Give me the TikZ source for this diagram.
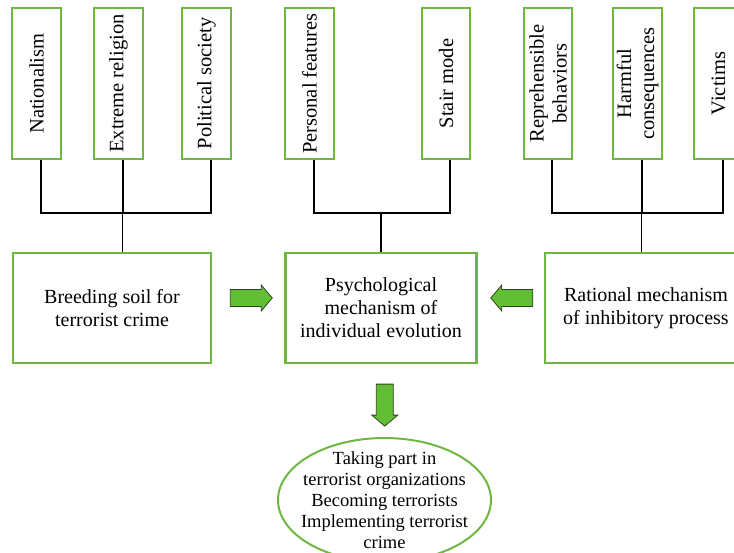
\documentclass[tikz,border=0pt]{standalone}
\usepackage{fontspec}
\setmainfont{Liberation Serif}
\usetikzlibrary{shapes.geometric, calc}
\definecolor{boxgreen}{RGB}{112,182,66}
\definecolor{arrowgreen}{RGB}{98,190,52}
\definecolor{arrowedge}{RGB}{45,70,30}
\tikzset{
    every node/.style = {font=\fontsize{20}{23}\selectfont, align=center},
    factor/.style = {draw=boxgreen, line width=2.4pt, rotate=90, minimum width=151pt, minimum height=48.5pt, inner sep=0pt, font=\fontsize{20.5}{23}\selectfont},
    stage/.style = {draw=boxgreen, line width=2.4pt, minimum height=110pt, inner sep=0pt},
    result/.style = {draw=boxgreen, line width=2pt, ellipse, minimum width=213pt, minimum height=124pt, inner sep=-10pt, font=\fontsize{18.5}{21}\selectfont},
    tree/.style = {line width=2pt},
    link/.style = {line width=1.2pt},
    blockarrow/.style = {fill=arrowgreen, draw=arrowedge, line width=0.8pt, line join=miter},
    pics/blockarr/.style = {code={
        \draw[blockarrow] (-21,-8.5) -- (10,-8.5) -- (10,-13) -- (21,0) -- (10,13) -- (10,8.5) -- (-21,8.5) -- cycle;
    }}
}

\begin{document}
\begin{tikzpicture}[x=1pt, y=-1pt]
    \useasboundingbox (0,0) rectangle (734,552);
    \clip (0,0) rectangle (734,552);

    \node[factor] (nat) at (36.5,83.5) {Nationalism};
    \node[factor] (rel) at (118.5,83.5) {Extreme religion};
    \node[factor] (pol) at (206.5,83.5) {Political society};
    \node[factor] (pers) at (309.5,83.5) {Personal features};
    \node[factor] (stair) at (446,83.5) {Stair mode};
    \node[factor] (repr) at (548,83.5) {Reprehensible\\behaviors};
    \node[factor] (harm) at (637.5,83.5) {Harmful\\consequences};
    \node[factor] (vict) at (718.5,83.5) {Victims};

    \node[stage, minimum width=198pt] (breed) at (112,308) {Breeding soil for\\terrorist crime};
    \node[stage, minimum width=191pt] (psych) at (381,308) {Psychological\\mechanism of\\individual evolution};
    \node[stage, minimum width=202pt] (ratio) at (646,308) {Rational mechanism\\of inhibitory process};

    \node[result] (outcome) at (384.5,500) {Taking part in\\terrorist organizations\\Becoming terrorists\\Implementing terrorist\\crime};

    \draw[tree] ([xshift=4pt]nat.west) -- ++(0,53) coordinate (lbar) -| ([xshift=4pt]pol.west)
        ([xshift=4pt]rel.west) -- ([xshift=4pt]rel.west |- lbar);
    \draw[link] ([xshift=4pt]rel.west |- lbar) -- ([xshift=4pt]rel.west |- breed.north);

    \draw[tree] ([xshift=4pt]pers.west) -- ++(0,53) coordinate (pbar) -| ([xshift=4pt]stair.west);
    \draw[link] (psych.north) -- (psych.north |- pbar);

    \draw[tree] ([xshift=4pt]repr.west) -- ++(0,53) coordinate (rbar) -| ([xshift=4pt]vict.west)
        ([xshift=4pt]harm.west) -- ([xshift=4pt]harm.west |- rbar);
    \draw[link] ([xshift=4pt]harm.west |- rbar) -- ([xshift=4pt]harm.west |- ratio.north);

    \path ($(breed.east)!0.5!(psych.west)$) ++(3,-10) pic {blockarr};
    \path ($(ratio.west)!0.5!(psych.east)$) ++(1,-10) pic[rotate=180] {blockarr};
    \path ($(psych.south)!0.5!(outcome.north)$) ++(2,4.5) pic[rotate=-90] {blockarr};
\end{tikzpicture}
\end{document}
